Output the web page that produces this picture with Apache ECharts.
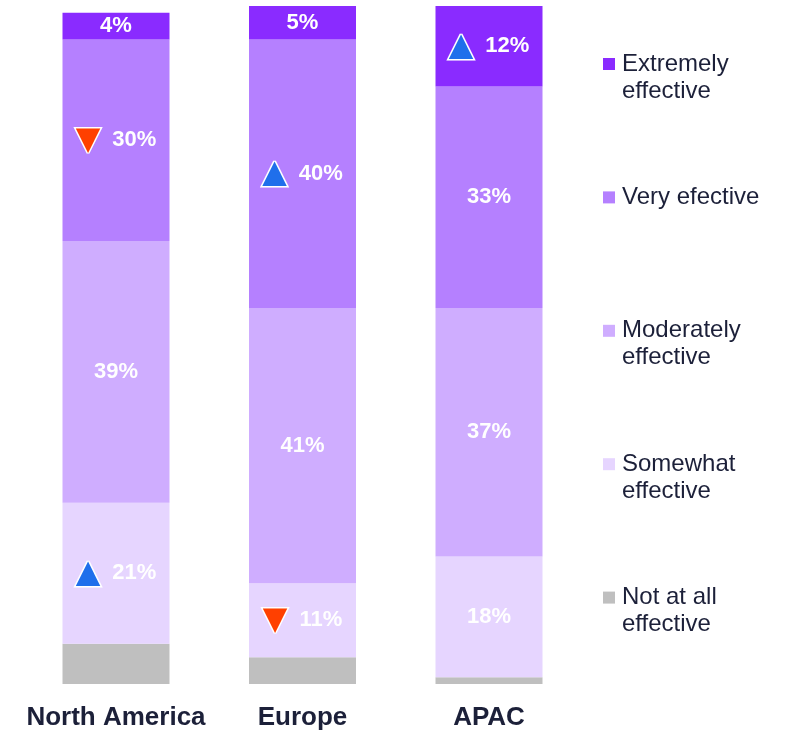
<!DOCTYPE html>
<html>
<head>
<meta charset="utf-8">
<script src="https://cdn.jsdelivr.net/npm/echarts@6/dist/echarts.min.js"></script>
<style>
html, body { margin: 0; padding: 0; background: #fff; }
#chart { width: 785px; height: 730px; }
</style>
</head>
<body>
<div id="chart"></div>
<script>
// data (share of respondents, %)
var regions = ['North America', 'Europe', 'APAC'];
var notAtAll = [6, 4, 1];
var somewhat = [21, 11, 18];
var moderately = [39, 41, 37];
var very = [30, 40, 33];
var extremely = [4, 5, 12];

// significance markers: 'up' / 'down' / ''
var notAtAllTrend = ['', '', ''];
var somewhatTrend = ['up', 'down', ''];
var moderatelyTrend = ['', '', ''];
var veryTrend = ['down', 'up', ''];
var extremelyTrend = ['', '', 'up'];

// bottom -> top
var seriesNames = ['Not at all effective', 'Somewhat effective', 'Moderately effective', 'Very efective', 'Extremely effective'];
var legendLabels = ['Not at all\neffective', 'Somewhat\neffective', 'Moderately\neffective', 'Very efective', 'Extremely\neffective'];
var colors = ['#bfbfbf', '#e6d5ff', '#cfadff', '#b580ff', '#8a2bff'];

var values = [notAtAll, somewhat, moderately, very, extremely];
var trends = [notAtAllTrend, somewhatTrend, moderatelyTrend, veryTrend, extremelyTrend];

var textColor = '#1c2039';
var font = 'Liberation Sans, Arial, sans-serif';

var myChart = echarts.init(document.getElementById('chart'));

var series = seriesNames.map(function (name, s) {
    return {
        name: name,
        type: 'bar',
        stack: 'total',
        barWidth: 107,
        itemStyle: { color: colors[s] },
        emphasis: { disabled: true },
        label: {
            show: s > 0,
            position: 'inside',
            formatter: function (p) {
                var t = trends[s][p.dataIndex];
                var mark = '';
                if (t === 'up') mark = '{up|▲}';
                if (t === 'down') mark = '{down|▼}';
                return mark + '{v|' + p.value + '%}';
            },
            rich: {
                v: { fontFamily: font, fontSize: 22, fontWeight: 'bold', color: '#fff' },
                up: {
                    fontFamily: 'DejaVu Sans', fontSize: 32, color: '#1f6feb',
                    textBorderColor: '#fff', textBorderWidth: 3, padding: [0, 12, 0, 0]
                },
                down: {
                    fontFamily: 'DejaVu Sans', fontSize: 32, color: '#ff4000',
                    textBorderColor: '#fff', textBorderWidth: 3, padding: [0, 12, 0, 0]
                }
            }
        },
        data: values[s]
    };
});

// one legend block per item, top to bottom; the icon sits on the first text line
var legends = [];
for (var k = 0; k < 5; k++) {
    var s = 4 - k;
    var twoLine = legendLabels[s].indexOf('\n') >= 0;
    var iconCenter = 64 + k * 133.4;
    legends.push({
        data: [seriesNames[s]],
        orient: 'vertical',
        left: 603,
        top: iconCenter - (twoLine ? 40.5 : 13.5),
        padding: 0,
        icon: 'rect',
        itemWidth: 12,
        itemHeight: 12,
        itemGap: 0,
        selectedMode: false,
        formatter: (function (lbl, two) {
            return function () { return two ? '\n' + lbl : lbl; };
        })(legendLabels[s], twoLine),
        textStyle: {
            fontFamily: font,
            fontSize: 24,
            lineHeight: 27,
            color: textColor,
            padding: [0, 0, 0, 2]
        }
    });
}

var option = {
    animation: false,
    legend: legends,
    grid: { left: 22.75, right: 202.75, top: 6, bottom: 46, outerBoundsMode: 'none' },
    xAxis: {
        type: 'category',
        data: regions,
        axisLine: { show: false },
        axisTick: { show: false },
        axisLabel: {
            interval: 0,
            margin: 21,
            fontFamily: font,
            fontSize: 26,
            fontWeight: 'bold',
            color: textColor
        }
    },
    yAxis: {
        type: 'value',
        min: 0,
        max: 101,
        show: false,
        splitLine: { show: false }
    },
    series: series
};

myChart.setOption(option);
</script>
</body>
</html>
